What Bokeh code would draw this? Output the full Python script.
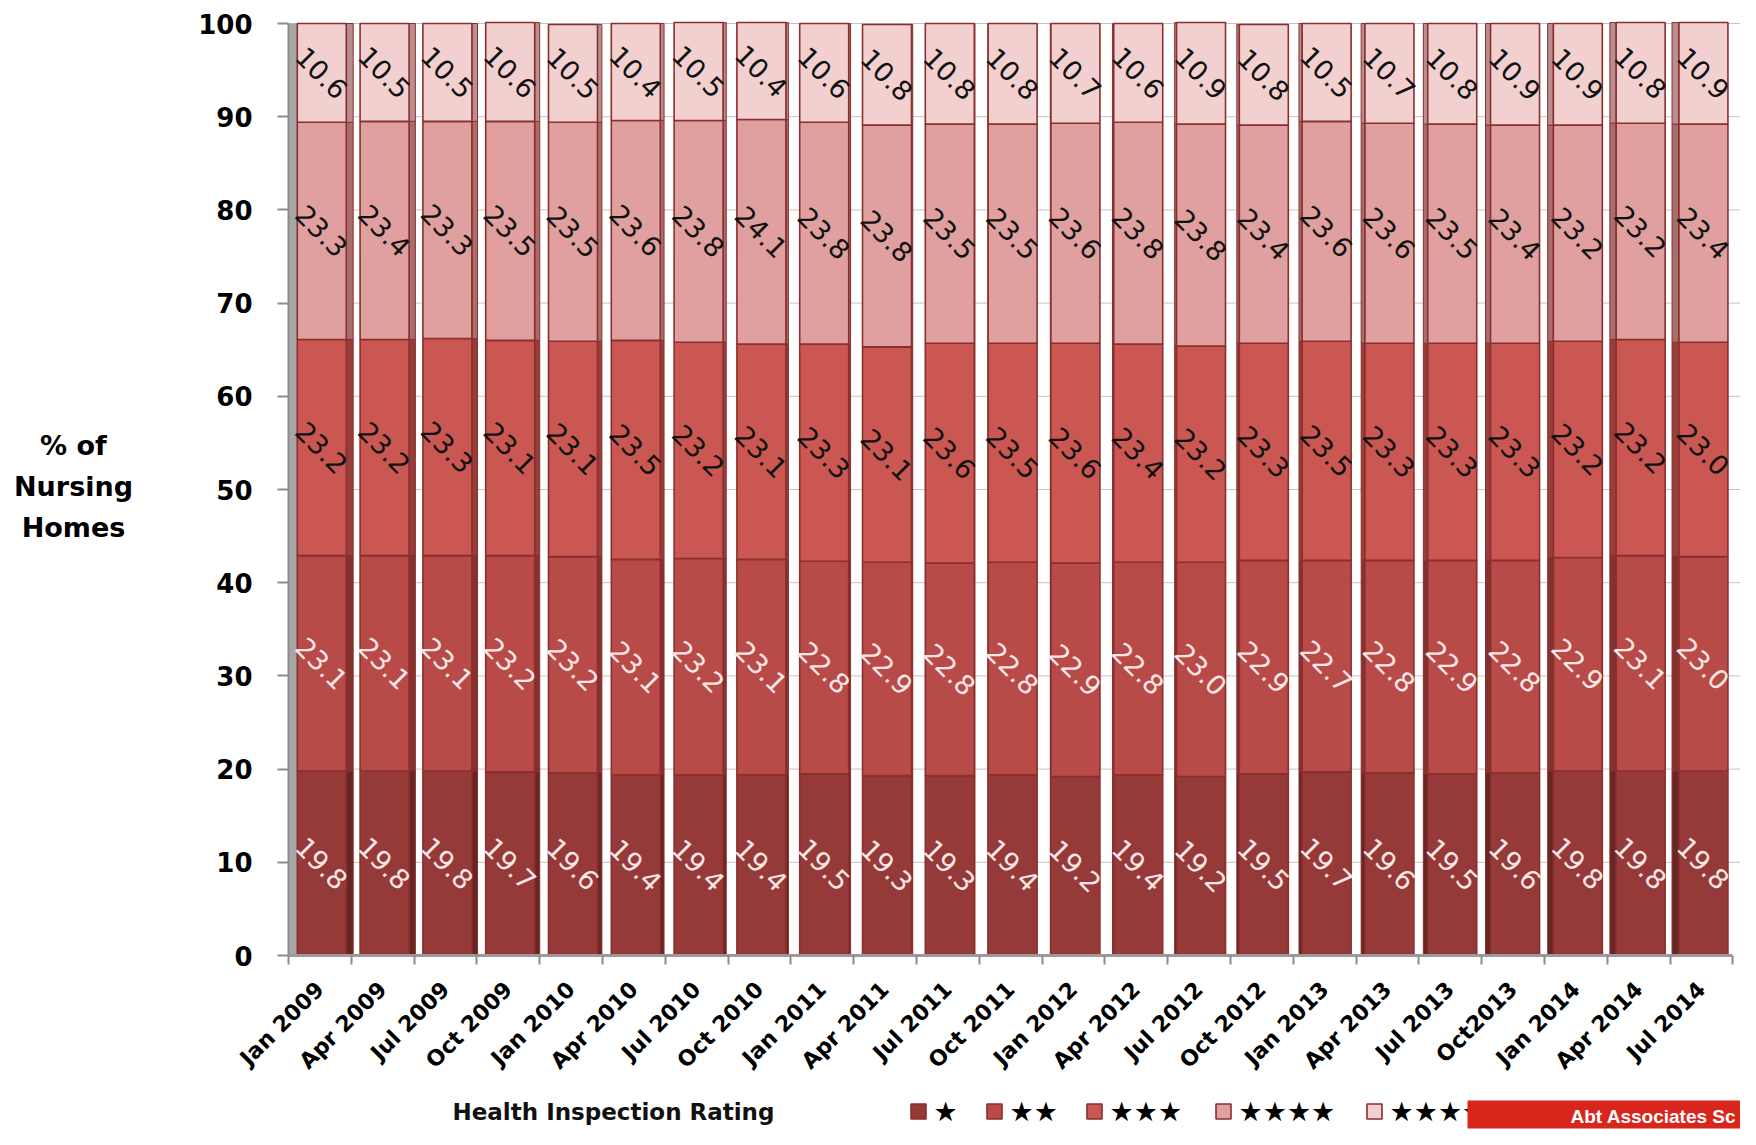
import math
from bokeh.plotting import figure
from bokeh.models import (Range1d, FixedTicker, Label, ColumnDataSource)
from bokeh.core.properties import value
from bokeh.embed import file_html
from bokeh.resources import INLINE

# ---------------- data ----------------
months = ["Jan 2009", "Apr 2009", "Jul 2009", "Oct 2009", "Jan 2010", "Apr 2010",
          "Jul 2010", "Oct 2010", "Jan 2011", "Apr 2011", "Jul 2011", "Oct 2011",
          "Jan 2012", "Apr 2012", "Jul 2012", "Oct 2012", "Jan 2013", "Apr 2013",
          "Jul 2013", "Oct2013", "Jan 2014", "Apr 2014", "Jul 2014"]
one_star = [19.8, 19.8, 19.8, 19.7, 19.6, 19.4, 19.4, 19.4, 19.5, 19.3, 19.3, 19.4,
            19.2, 19.4, 19.2, 19.5, 19.7, 19.6, 19.5, 19.6, 19.8, 19.8, 19.8]
two_star = [23.1, 23.1, 23.1, 23.2, 23.2, 23.1, 23.2, 23.1, 22.8, 22.9, 22.8, 22.8,
            22.9, 22.8, 23.0, 22.9, 22.7, 22.8, 22.9, 22.8, 22.9, 23.1, 23.0]
three_star = [23.2, 23.2, 23.3, 23.1, 23.1, 23.5, 23.2, 23.1, 23.3, 23.1, 23.6, 23.5,
              23.6, 23.4, 23.2, 23.3, 23.5, 23.3, 23.3, 23.3, 23.2, 23.2, 23.0]
four_star = [23.3, 23.4, 23.3, 23.5, 23.5, 23.6, 23.8, 24.1, 23.8, 23.8, 23.5, 23.5,
             23.6, 23.8, 23.8, 23.4, 23.6, 23.6, 23.5, 23.4, 23.2, 23.2, 23.4]
five_star = [10.6, 10.5, 10.5, 10.6, 10.5, 10.4, 10.5, 10.4, 10.6, 10.8, 10.8, 10.8,
             10.7, 10.6, 10.9, 10.8, 10.5, 10.7, 10.8, 10.9, 10.9, 10.8, 10.9]
series = [one_star, two_star, three_star, four_star, five_star]
legend_labels = ["★", "★★", "★★★", "★★★★", "★★★★★"]
y_ticks = list(range(0, 101, 10))

# ---------------- layout geometry (pixels) ----------------
W, H = 1740, 1129
def sy(y):                       # screen y measured from the bottom of the canvas
    return H - y

X_END = 22.62
axis_left = 288.0
slot = (W - axis_left) / (X_END + 0.5)
y0_px, y100_px = 955.0, 23.0
py = (y0_px - y100_px) / 100.0
x_start = -0.5 - axis_left / slot
y_top = 100 + y100_px / py
y_bot = -(H - y0_px) / py

def dx(px):                      # canvas pixel x -> data x
    return x_start + px / slot
def dy(px):                      # canvas pixel y (from top) -> data y
    return y_top - px / py

# ---------------- styles ----------------
face_colors = ["#953A38", "#B84A47", "#CB5753", "#DFA09F", "#F3D0D0"]
side_colors = ["#672523", "#843230", "#973D3A", "#A86E6D", "#B88E8E"]
label_colors = ["#FBE6E6", "#FBE6E6", "#111111", "#111111", "#111111"]
outline = "#8A2F2D"
BOLD = "DejaVu Sans"

n = len(months)
xs = list(range(n))

p = figure(width=W, height=H, output_backend="svg", toolbar_location=None,
           x_range=Range1d(x_start, X_END), y_range=Range1d(y_bot, y_top),
           min_border=0, min_border_left=0, min_border_right=0,
           min_border_top=0, min_border_bottom=0)
p.outline_line_color = None
p.background_fill_color = "white"
p.xgrid.visible = False
p.ygrid.visible = False

# gridlines behind the bars (only across the plotting area)
grid_y = y_ticks[1:]
p.segment(x0=[-0.5] * len(grid_y), x1=[X_END] * len(grid_y), y0=grid_y, y1=grid_y,
          line_color="#C4C4C4", line_width=1)

# back wall strip (3D effect)
p.quad(left=[-0.5], right=[-0.36], bottom=[0], top=[100],
       fill_color="#A6A6A6", line_color=None)

# geometry of 3D-looking bars
front_w = 0.78
shift = 0.03
front_x = [x + shift for x in xs]
side_w = [0.11 * abs(11 - i) / 11 for i in xs]
side_x = []
for i in xs:
    if i < 11:
        side_x.append(front_x[i] + front_w / 2 + side_w[i] / 2)
    else:
        side_x.append(front_x[i] - front_w / 2 - side_w[i] / 2)

bottoms = [0.0] * n
for k, vals in enumerate(series):
    tops = [b + v for b, v in zip(bottoms, vals)]
    src = ColumnDataSource(dict(
        x=front_x, sx=side_x, sw=side_w, bottom=bottoms, top=tops,
        mid=[(b + t) / 2 for b, t in zip(bottoms, tops)],
        lbl=["%.1f" % v for v in vals]))
    p.vbar(x="sx", width="sw", bottom="bottom", top="top", source=src,
           fill_color=side_colors[k], line_color=outline, line_width=1)
    p.vbar(x="x", width=front_w, bottom="bottom", top="top", source=src,
           fill_color=face_colors[k], line_color=outline, line_width=1.6)
    p.text(x="x", y="mid", text="lbl", source=src, angle=-math.pi / 4,
           text_align="center", text_baseline="middle",
           text_font=value("DejaVu Sans"), text_font_size="27px",
           text_color=label_colors[k])
    bottoms = tops

# ---------------- axes (drawn at data positions) ----------------
xa = p.xaxis[0]
xa.fixed_location = 0
xa.bounds = (-0.5, 22.5)
xa.ticker = FixedTicker(ticks=xs, minor_ticks=[i - 0.5 for i in range(n + 1)])
xa.major_label_overrides = {i: m for i, m in enumerate(months)}
xa.major_label_orientation = math.pi / 4
xa.major_label_text_font = BOLD
xa.major_label_text_font_style = "bold"
xa.major_label_text_font_size = "22px"
xa.major_label_text_color = "black"
xa.major_tick_line_color = None
xa.major_tick_out = 0
xa.major_tick_in = 0
xa.minor_tick_out = 9
xa.minor_tick_in = 0
xa.minor_tick_line_color = "#8C8C8C"
xa.minor_tick_line_width = 2
xa.axis_line_color = "#9A9A9A"
xa.axis_line_width = 3
xa.major_label_standoff = 21

ya = p.yaxis[0]
ya.fixed_location = -0.5
ya.bounds = (0, 100)
ya.ticker = FixedTicker(ticks=y_ticks)
ya.major_label_text_font = BOLD
ya.major_label_text_font_style = "bold"
ya.major_label_text_font_size = "26px"
ya.major_label_text_color = "black"
ya.major_tick_out = 11
ya.major_tick_in = 0
ya.major_tick_line_color = "#8C8C8C"
ya.major_tick_line_width = 2
ya.minor_tick_line_color = None
ya.axis_line_color = "#8C8C8C"
ya.axis_line_width = 2
ya.major_label_standoff = 25

# y title
p.add_layout(Label(x=73, y=sy(486), x_units="screen", y_units="screen",
                   text="% of\nNursing\nHomes", text_align="center",
                   text_baseline="middle", text_font=BOLD, text_font_style="bold",
                   text_font_size="27px", text_line_height=1.32,
                   text_color="black"))

# legend row (keys drawn as marks so the badge can sit on top of them)
key_left = [910, 986, 1086, 1215, 1366]
key_y = dy(1111)
p.rect(x=[dx(k + 8) for k in key_left], y=[key_y] * 5, width=15, height=15,
       width_units="screen", height_units="screen",
       fill_color=face_colors, line_color=outline, line_width=1.6)
p.text(x=[dx(k + 23) for k in key_left], y=[key_y] * 5, text=legend_labels,
       text_align="left", text_baseline="middle",
       text_font=value("DejaVu Sans"), text_font_size="27px", text_color="black")

p.add_layout(Label(x=452, y=sy(1111), x_units="screen", y_units="screen",
                   text="Health Inspection Rating", text_font=BOLD,
                   text_font_style="bold", text_font_size="23px",
                   text_color="#111111", text_baseline="middle"))

p.add_layout(Label(x=1467, y=sy(1100), x_units="screen", y_units="screen",
                   text="Abt Associates Sc", text_font="Liberation Sans",
                   text_font_style="bold", text_font_size="19px",
                   text_color="white", text_baseline="top",
                   background_fill_color="#D9261C",
                   padding=dict(left=103, right=300, top=5, bottom=2)))

open("out.html", "w").write(file_html(p, INLINE))
